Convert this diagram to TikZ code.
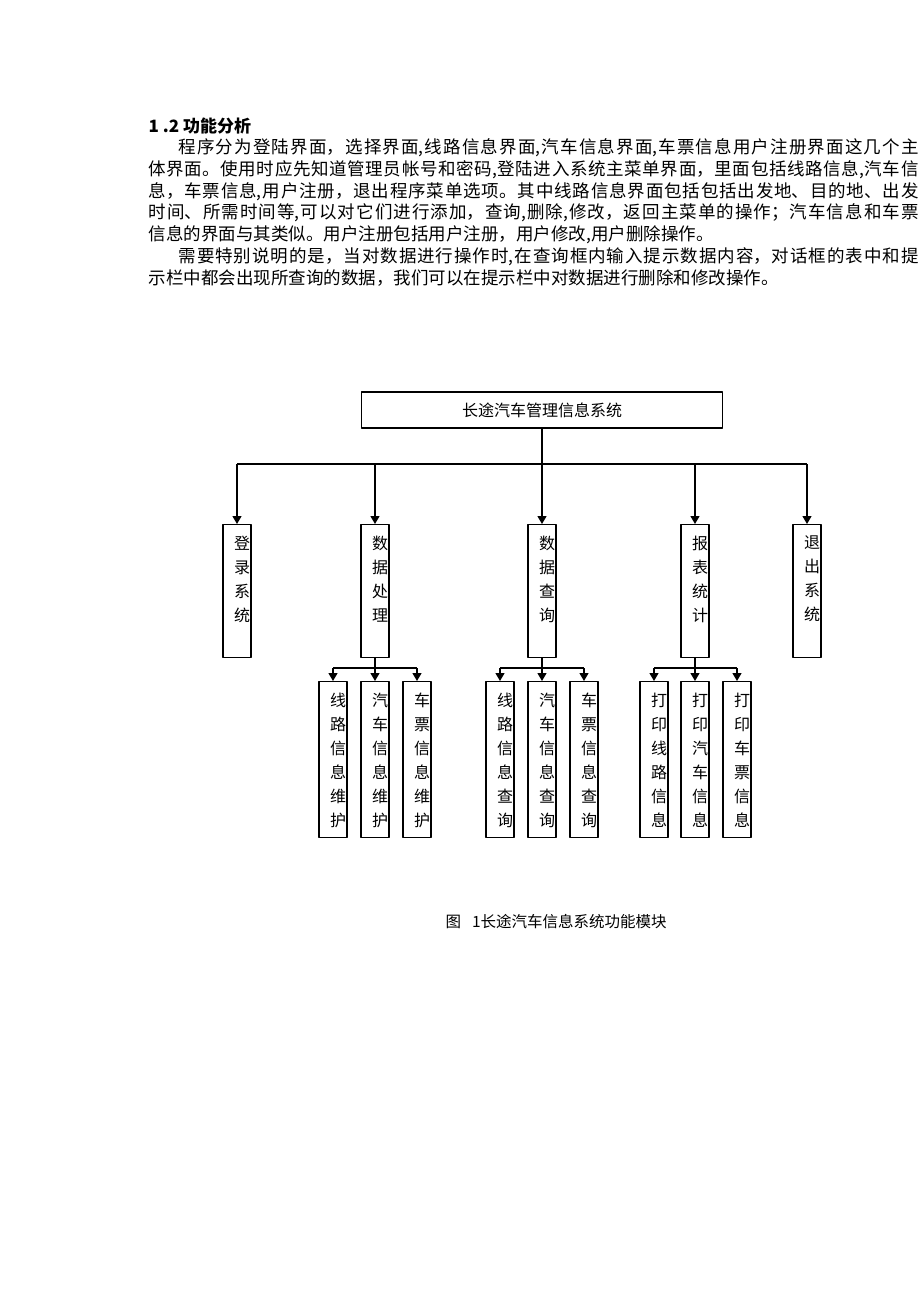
\documentclass[tikz,border=0pt]{standalone}
\usepackage{fontspec}
\setmainfont{Noto Sans CJK SC}
\usetikzlibrary{arrows.meta}
\XeTeXlinebreaklocale "zh"
\XeTeXlinebreakskip=0pt plus 4pt
\tolerance=10000
\hbadness=10000

\tikzset{
  box/.style={draw, line width=1.3pt, minimum width=28pt, inner sep=0pt, anchor=north},
  vtext/.style={anchor=north, inner sep=0pt, align=center, font=\fontsize{16}{24}\selectfont},
  para/.style={anchor=north west, inner sep=0pt, text width=770pt, align=justify,
    font=\fontsize{17.5}{21.8}\selectfont},
}

\begin{document}
\begin{tikzpicture}[x=1pt, y=-1pt, line width=1.3pt, line join=round,
  >={Triangle[width=9pt,length=8pt]}]
\fill[white] (0,0) rectangle (920,1302);
\useasboundingbox (0,0) rectangle (920,1302);
\path
(542,464) coordinate (bus)
(0,668) coordinate (sub)
;
% text above the chart
\node[anchor=west, inner sep=0pt, font=\fontsize{17}{20}\selectfont\bfseries] (head) at (148,126) {1 .2 功能分析};
\node[para] (par1) at (148,138) {\hspace*{30pt}程序分为登陆界面，选择界面,线路信息界面,汽车信息界面,车票信息用户注册界面这几个主\linebreak
体界面。使用时应先知道管理员帐号和密码,登陆进入系统主菜单界面，里面包括线路信息,汽车信\linebreak
息，车票信息,用户注册，退出程序菜单选项。其中线路信息界面包括包括出发地、目的地、出发\linebreak
时间、所需时间等,可以对它们进行添加，查询,删除,修改，返回主菜单的操作；汽车信息和车票\linebreak
信息的界面与其类似。用户注册包括用户注册，用户修改,用户删除操作。};
\node[para] (par2) at (148,247) {\hspace*{30pt}需要特别说明的是，当对数据进行操作时,在查询框内输入提示数据内容，对话框的表中和提\linebreak
示栏中都会出现所查询的数据，我们可以在提示栏中对数据进行删除和修改操作。};

% chart
\node[draw, minimum width=361pt, minimum height=36pt, inner sep=0pt,
  font=\fontsize{16}{18}\selectfont] (top) at (542,410) {长途汽车管理信息系统};
\foreach \n/\x/\t in {login/237/{登\\录\\系\\统}, proc/375/{数\\据\\处\\理},
  query/542/{数\\据\\查\\询}, report/695/{报\\表\\统\\计}, exit/807/{退\\出\\系\\统}}{
  \node[box, minimum height=133pt] (\n) at (\x,524) {};
  \node[vtext] (\n-t) at ([xshift=5pt,yshift=-11pt]\n.north) {\t};
}
\draw (login.north |- bus) -- (exit.north |- bus);
\draw[->] (top.south) -- (query.north);
\foreach \n in {login, proc, report, exit}
\draw[->] (\n.north |- bus) -- (\n.north);

\foreach \n/\x/\t in {p1/333/{线\\路\\信\\息\\维\\护}, p2/375/{汽\\车\\信\\息\\维\\护},
  p3/417/{车\\票\\信\\息\\维\\护}, q1/500/{线\\路\\信\\息\\查\\询},
  q2/542/{汽\\车\\信\\息\\查\\询}, q3/584/{车\\票\\信\\息\\查\\询},
  r1/654/{打\\印\\线\\路\\信\\息}, r2/695/{打\\印\\汽\\车\\信\\息},
  r3/737/{打\\印\\车\\票\\信\\息}}{
  \node[box, minimum height=156pt] (\n) at (\x,681) {};
  \node[vtext] (\n-t) at ([xshift=5pt,yshift=-11pt]\n.north) {\t};
}
\foreach \m/\a/\b/\c in {proc/p1/p2/p3, query/q1/q2/q3, report/r1/r2/r3}{
  \draw (\a.north |- sub) -- (\c.north |- sub);
  \draw[->] (\m.south) -- (\b.north);
  \draw[->] (\a.north |- sub) -- (\a.north);
  \draw[->] (\c.north |- sub) -- (\c.north);
}

\node[anchor=west, inner sep=0pt, font=\fontsize{15.5}{18}\selectfont] (cap) at (445,922)
  {图\hspace{11pt}1长途汽车信息系统功能模块};
\end{tikzpicture}
\end{document}
